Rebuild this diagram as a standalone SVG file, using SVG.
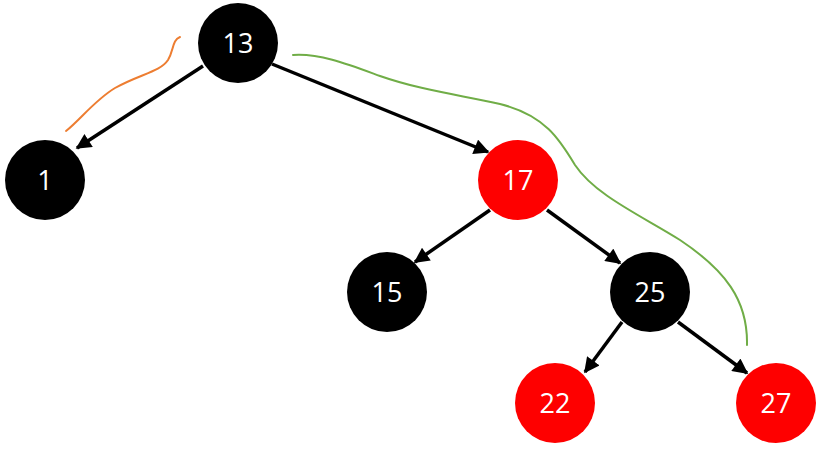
<svg xmlns="http://www.w3.org/2000/svg" width="822" height="451" viewBox="0 0 822 451">
<style>
.b{fill:#000}
.r{fill:#fe0000}
text{fill:#fff;font-family:"Open Sans","Liberation Sans",sans-serif;font-size:27px;text-anchor:middle}
.e{stroke:#000;stroke-width:3.5;fill:none;marker-end:url(#ah)}
</style>
<defs>
<marker id="ah" viewBox="0 0 10 10" refX="9" refY="5" markerWidth="4.6" markerHeight="4.4" orient="auto" markerUnits="strokeWidth">
<path d="M0,0 L10,5 L0,10 Z" fill="#000"/>
</marker>
</defs>
<rect width="822" height="451" fill="#fff"/>
<g id="connectors">
<line class="e" x1="203" y1="66" x2="77" y2="148"/>
<line class="e" x1="272" y1="64" x2="488" y2="152"/>
<line class="e" x1="490" y1="210" x2="415" y2="262"/>
<line class="e" x1="547" y1="210" x2="620" y2="263"/>
<line class="e" x1="622" y1="322" x2="585" y2="372"/>
<line class="e" x1="678" y1="322" x2="747" y2="373"/>
</g>
<g id="annotations" fill="none" stroke-width="2" stroke-linecap="round">
<path d="M66,131 C80,120 95,100 115,88 C140,74 160,72 168,60 C174,50 172,40 180,37" stroke="#ed7d31"/>
<path d="M293,55 C320,53 350,65 380,76 C420,90 460,95 500,104 C545,115 560,140 575,165 C595,195 640,215 680,240 C725,270 748,300 747,345" stroke="#70ad47"/>
</g>
<g id="n13"><circle class="b" cx="238" cy="43" r="40"/><text x="238" y="53">13</text></g>
<g id="n1"><circle class="b" cx="45" cy="180" r="40"/><text x="45" y="190">1</text></g>
<g id="n17"><circle class="r" cx="518" cy="180" r="40"/><text x="518" y="190">17</text></g>
<g id="n15"><circle class="b" cx="387" cy="292" r="40"/><text x="387" y="302">15</text></g>
<g id="n25"><circle class="b" cx="650" cy="292" r="40"/><text x="650" y="302">25</text></g>
<g id="n22"><circle class="r" cx="555" cy="403" r="40"/><text x="555" y="413">22</text></g>
<g id="n27"><circle class="r" cx="776" cy="403" r="40"/><text x="776" y="413">27</text></g>
</svg>
